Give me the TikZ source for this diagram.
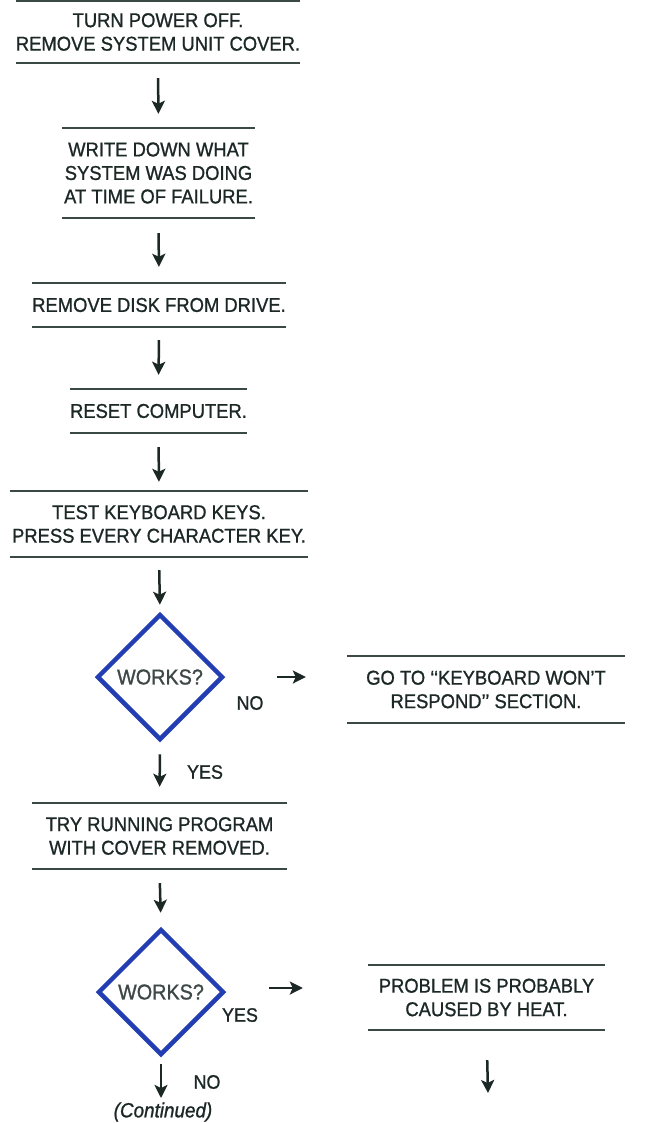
\documentclass[tikz,border=0pt]{standalone}
\usepackage{fontspec}
\setmainfont{Liberation Sans}[FakeBold=1.0, FakeStretch=0.92]
\usetikzlibrary{shapes.geometric,arrows.meta}
\definecolor{ink}{RGB}{28,40,38}
\definecolor{rulec}{RGB}{58,72,70}
\definecolor{dblue}{RGB}{35,62,178}
\tikzset{
  stepbox/.style={inner sep=0pt, align=center, text=ink,
    font=\fontsize{20}{23.5}\selectfont},
  rule/.style={draw=rulec, line width=1.6pt},
  decision/.style={diamond, aspect=1, draw=dblue, line width=4.5pt, inner sep=0pt,
    minimum width=126pt, minimum height=126pt, text=ink!85,
    font=\fontsize{21.5}{22}\selectfont},
  lbl/.style={text=ink, font=\fontsize{19.5}{20}\selectfont, inner sep=0pt},
  arr/.style={draw=ink, line width=2.5pt, -{Stealth[length=13pt,width=13pt,inset=3pt]}},
}
\newcommand{\ruled}[1]{%
  \draw[rule] (#1.north west) -- (#1.north east);
  \draw[rule] (#1.south west) -- (#1.south east);}
\begin{document}
\begin{tikzpicture}[x=1pt,y=-1pt]
\path[fill=white,use as bounding box] (0,0) rectangle (647,1123);

\node[stepbox, minimum width=276pt, minimum height=62pt] (b1) at (158,32)
  {TURN POWER OFF.\\REMOVE SYSTEM UNIT COVER.};
\node[stepbox, minimum width=193pt, minimum height=90pt] (b2) at (158.5,173)
  {WRITE DOWN WHAT\\SYSTEM WAS DOING\\AT TIME OF FAILURE.};
\node[stepbox, minimum width=254pt, minimum height=44pt] (b3) at (159,305)
  {REMOVE DISK FROM DRIVE.};
\node[stepbox, minimum width=171pt, minimum height=44pt] (b4) at (158.5,411)
  {RESET COMPUTER.};
\node[stepbox, minimum width=298pt, minimum height=66pt] (b5) at (159,524)
  {TEST KEYBOARD KEYS.\\PRESS EVERY CHARACTER KEY.};
\node[decision] (d1) at (160,677) {WORKS?};
\node[stepbox, minimum width=278pt, minimum height=67pt] (b6) at (486,689.5)
  {GO TO ‘‘KEYBOARD WON’T\\RESPOND’’ SECTION.};
\node[stepbox, minimum width=255pt, minimum height=66pt] (b7) at (159.5,836)
  {TRY RUNNING PROGRAM\\WITH COVER REMOVED.};
\node[decision] (d2) at (161,992) {WORKS?};
\node[stepbox, minimum width=237pt, minimum height=65pt] (b8) at (486.5,997.5)
  {PROBLEM IS PROBABLY\\CAUSED BY HEAT.};

\ruled{b1}\ruled{b2}\ruled{b3}\ruled{b4}\ruled{b5}\ruled{b6}\ruled{b7}\ruled{b8}

\coordinate (c1) at (161,1098);
\coordinate (c2) at (488,1093);

\draw[arr, shorten <=15pt, shorten >=14pt] (b1.south) -- (b2.north);
\draw[arr, shorten <=15pt, shorten >=16pt] (b2.south) -- (b3.north);
\draw[arr, shorten <=13pt, shorten >=14pt] (b3.south) -- (b4.north);
\draw[arr, shorten <=14pt, shorten >=9pt] (b4.south) -- (b5.north);
\draw[arr, shorten <=13pt, shorten >=7pt] (b5.south) -- (d1.north);
\draw[arr, shorten <=12pt, shorten >=16pt] (d1.south) -- (b7.north);
\draw[arr, shorten <=14pt, shorten >=14pt] (b7.south) -- (d2.north);
\draw[arr, shorten <=7pt] (d2.south) -- (c1);
\draw[arr, shorten <=30pt] (b8.south) -- (c2);
\draw[arr, shorten <=52pt, shorten >=41pt] (d1.east) -- (d1.east -| b6.west);
\draw[arr, shorten <=43pt, shorten >=65pt] ([yshift=4pt]d2.east) -- ([yshift=4pt]d2.east -| b8.west);

\node[lbl] (l1) at (250,703) {NO};
\node[lbl] (l2) at (205,772) {YES};
\node[lbl] (l3) at (240,1015) {YES};
\node[lbl] (l4) at (207,1082) {NO};
\node[lbl, font=\fontsize{20.5}{20}\selectfont\itshape] (l5) at (163,1112) {(Continued)};
\end{tikzpicture}
\end{document}
